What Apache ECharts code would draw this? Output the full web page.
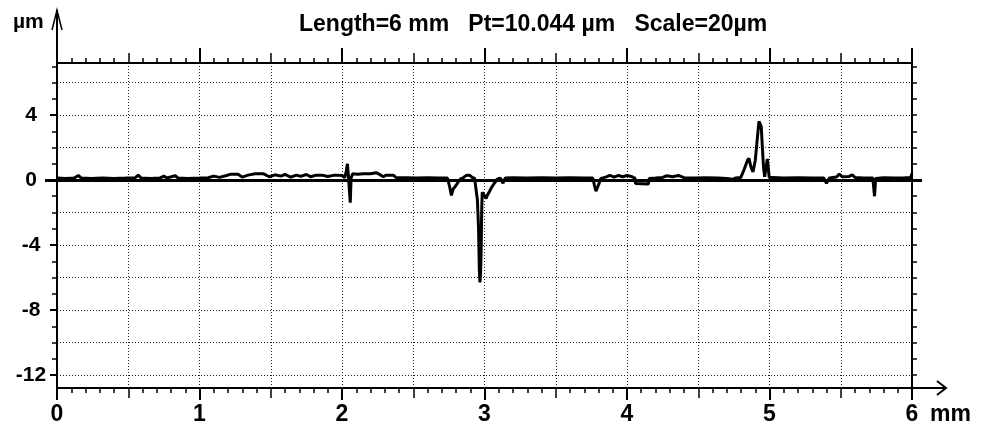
<!DOCTYPE html>
<html>
<head>
<meta charset="utf-8">
<script src="https://cdn.jsdelivr.net/npm/echarts@6/dist/echarts.min.js"></script>
<style>
  html, body { margin: 0; padding: 0; background: #fff; }
  #chart { width: 986px; height: 430px; }
</style>
</head>
<body>
<div id="chart"></div>
<script>
// profile (x in mm, height in µm)
const profileX = [
  0.00, 0.06, 0.12, 0.15, 0.17, 0.24, 0.32, 0.40, 0.48, 0.55, 0.57, 0.59, 0.66, 0.72, 0.75, 0.77, 0.83, 0.85, 0.92,
  1.00, 1.06, 1.10, 1.14, 1.19, 1.22, 1.27, 1.30, 1.34, 1.39, 1.45, 1.49, 1.53, 1.57, 1.60, 1.64, 1.68, 1.71, 1.75,
  1.78, 1.82, 1.86, 1.90, 1.95, 2.00, 2.02, 2.03, 2.038, 2.045, 2.052, 2.058, 2.064, 2.075, 2.11, 2.15, 2.20, 2.24,
  2.26, 2.29, 2.31, 2.36, 2.38, 2.45, 2.52, 2.60, 2.68, 2.74, 2.755, 2.768, 2.78, 2.795, 2.81, 2.83, 2.85, 2.875,
  2.895, 2.915, 2.93, 2.936, 2.95, 2.958, 2.964, 2.968, 2.972, 2.976, 2.98, 2.984, 2.995, 3.011, 3.022, 3.034, 3.05,
  3.069, 3.09, 3.11, 3.13, 3.145, 3.20, 3.30, 3.40, 3.50, 3.60, 3.70, 3.76, 3.772, 3.782, 3.80, 3.817, 3.85, 3.88,
  3.91, 3.94, 3.97, 4.00, 4.03, 4.055, 4.06, 4.15, 4.156, 4.20, 4.25, 4.28, 4.32, 4.36, 4.40, 4.48, 4.56, 4.64,
  4.70, 4.74, 4.76, 4.798, 4.82, 4.845, 4.856, 4.87, 4.884, 4.90, 4.915, 4.926, 4.935, 4.942, 4.95, 4.958, 4.966,
  4.975, 4.985, 4.992, 4.998, 5.02, 5.10, 5.20, 5.30, 5.38, 5.40, 5.42, 5.47, 5.49, 5.51, 5.56, 5.58, 5.60, 5.66,
  5.725, 5.737, 5.745, 5.80, 5.88, 5.95, 5.99, 6.00
]
const profileY = [
  0.12, 0.10, 0.12, 0.28, 0.12, 0.10, 0.12, 0.10, 0.12, 0.14, 0.30, 0.12, 0.10, 0.12, 0.24, 0.12, 0.26, 0.12, 0.10,
  0.12, 0.14, 0.24, 0.16, 0.28, 0.36, 0.36, 0.18, 0.30, 0.38, 0.38, 0.20, 0.32, 0.24, 0.34, 0.18, 0.30, 0.22, 0.34,
  0.20, 0.30, 0.30, 0.22, 0.30, 0.28, 0.15, 0.55, 1.00, 0.25, 0.35, -1.40, 0.15, 0.38, 0.36, 0.38, 0.38, 0.45,
  0.36, 0.20, 0.30, 0.30, 0.15, 0.14, 0.12, 0.14, 0.12, 0.12, -0.40, -0.95, -0.55, -0.40, -0.20, 0.05, 0.14, 0.30,
  0.30, 0.14, 0.12, 0.00, -1.20, -2.90, -5.60, -6.30, -5.80, -4.60, -2.00, -0.75, -0.90, -1.13, -0.90, -0.72, -0.45,
  -0.20, 0.05, 0.12, -0.20, 0.12, 0.14, 0.12, 0.14, 0.12, 0.14, 0.12, 0.12, -0.35, -0.68, -0.30, 0.10, 0.18, 0.28,
  0.18, 0.28, 0.20, 0.28, 0.22, 0.12, -0.22, -0.25, 0.10, 0.12, 0.16, 0.26, 0.20, 0.28, 0.14, 0.12, 0.14, 0.12,
  0.10, 0.04, 0.12, 0.15, 0.60, 1.20, 1.33, 0.80, 0.50, 1.20, 2.60, 3.60, 3.70, 3.30, 2.00, 0.80, 0.20,
  0.30, 1.30, 1.20, 0.15, 0.15, 0.12, 0.14, 0.12, 0.12, -0.20, 0.12, 0.18, 0.36, 0.20, 0.22, 0.32, 0.16, 0.12,
  0.12, -1.00, 0.10, 0.14, 0.12, 0.14, 0.16, 0.40
]

const yLabelValues = [-12, -8, -4, 0, 4]
const yTickValues = [-12, -11, -10, -9, -8, -7, -6, -5, -4, -3, -2, -1, 0, 1, 2, 3, 4, 5, 6, 7]
const yMajorTicks = [-12, -8, -4, 4]
const yGridValues = [-12, -10, -8, -6, -4, -2, 2, 4, 6]
const titleText = 'Length=6 mm   Pt=10.044 µm   Scale=20µm'

const font = 'Liberation Sans, Arial, sans-serif'
const black = '#000'
const dotted = { show: true, lineStyle: { color: '#222', width: 1, type: [1, 2] } }

// plot box in pixels
const GL = 57, GT = 63, GR = 912, GB = 388
const W = 986, H = 430

const chart = echarts.init(document.getElementById('chart'), null, { renderer: 'canvas' })

const xBase = { type: 'value', min: 0, max: 6, axisLine: { show: false, onZero: false }, axisLabel: { show: false }, splitLine: { show: false } }
const yBase = { type: 'value', min: -12.8, max: 7.2, axisLine: { show: false, onZero: false }, axisLabel: { show: false }, splitLine: { show: false } }
const tick = (len, w) => ({ show: true, length: len, inside: false, lineStyle: { color: black, width: w } })

const option = {
  animation: false,
  backgroundColor: '#fff',
  title: {
    text: titleText,
    left: 294,
    top: 8,
    textStyle: { fontFamily: font, fontSize: 23, fontWeight: 'bold', color: black }
  },
  grid: { left: GL, top: GT, right: W - GR, bottom: H - GB, containLabel: false, outerBoundsMode: 'none' },
  xAxis: [
    { ...xBase, position: 'bottom', interval: 1,
      axisLine: { show: true, onZero: false, lineStyle: { color: black, width: 2 } },
      axisTick: tick(12, 2),
      axisLabel: { show: true, margin: 15, fontFamily: font, fontSize: 23, fontWeight: 'bold', color: black } },
    { ...xBase, position: 'bottom', interval: 0.5, axisTick: tick(10, 1.5), splitLine: dotted },
    { ...xBase, position: 'bottom', interval: 0.1, axisTick: tick(5, 1.5) },
    { ...xBase, position: 'top', interval: 1,
      axisLine: { show: true, onZero: false, lineStyle: { color: black, width: 2 } },
      axisTick: tick(15, 2) },
    { ...xBase, position: 'top', interval: 0.5, axisTick: tick(10, 1.5) },
    { ...xBase, position: 'top', interval: 0.1, axisTick: tick(5, 1.5) },
    // zero line
    { ...xBase, position: 'bottom', axisLine: { show: true, onZero: true, lineStyle: { color: black, width: 3 } },
      axisTick: { show: false } }
  ],
  yAxis: [
    { ...yBase, position: 'left',
      axisLine: { show: true, onZero: false, lineStyle: { color: black, width: 2 } },
      axisTick: { ...tick(5, 1.5), customValues: yTickValues },
      axisLabel: { show: true, customValues: yLabelValues, align: 'center', margin: 26,
        fontFamily: font, fontSize: 21, fontWeight: 'bold', color: black } },
    { ...yBase, position: 'left', axisTick: { ...tick(7, 2), customValues: yMajorTicks } },
    { ...yBase, position: 'left', axisTick: { ...tick(12, 3), customValues: [0] } },
    { ...yBase, position: 'right',
      axisLine: { show: true, onZero: false, lineStyle: { color: black, width: 2 } },
      axisTick: { ...tick(5, 1.5), customValues: yTickValues } },
    { ...yBase, position: 'right', axisTick: { ...tick(10, 3), customValues: [0] } },
    { ...yBase, position: 'left', axisTick: { show: false, customValues: yGridValues }, splitLine: dotted }
  ],
  series: [
    {
      type: 'line',
      xAxisIndex: 0,
      yAxisIndex: 0,
      data: profileX.map((x, i) => [x, profileY[i]]),
      showSymbol: false,
      symbol: 'none',
      lineStyle: { color: black, width: 3 },
      z: 5
    }
  ],
  graphic: [
    // y axis arrow
    { type: 'line', shape: { x1: GL, y1: GT, x2: GL, y2: 10 }, style: { stroke: black, lineWidth: 2 } },
    { type: 'polyline', shape: { points: [[GL - 5, 30], [GL, 10], [GL + 5, 30]] }, style: { stroke: black, lineWidth: 1.5, fill: null } },
    // x axis arrow
    { type: 'line', shape: { x1: GR, y1: GB, x2: GR + 34, y2: GB }, style: { stroke: black, lineWidth: 2 } },
    { type: 'polyline', shape: { points: [[GR + 25, GB - 7], [GR + 34, GB], [GR + 25, GB + 7]] }, style: { stroke: black, lineWidth: 2, fill: null } },
    { type: 'text', left: 13, top: 12,
      style: { text: 'µm', fontFamily: font, fontSize: 21, fontWeight: 'bold', fill: black } },
    { type: 'text', left: GR + 18, top: 403,
      style: { text: 'mm', fontFamily: font, fontSize: 23, fontWeight: 'bold', fill: black } }
  ]
}

chart.setOption(option)
</script>
</body>
</html>
